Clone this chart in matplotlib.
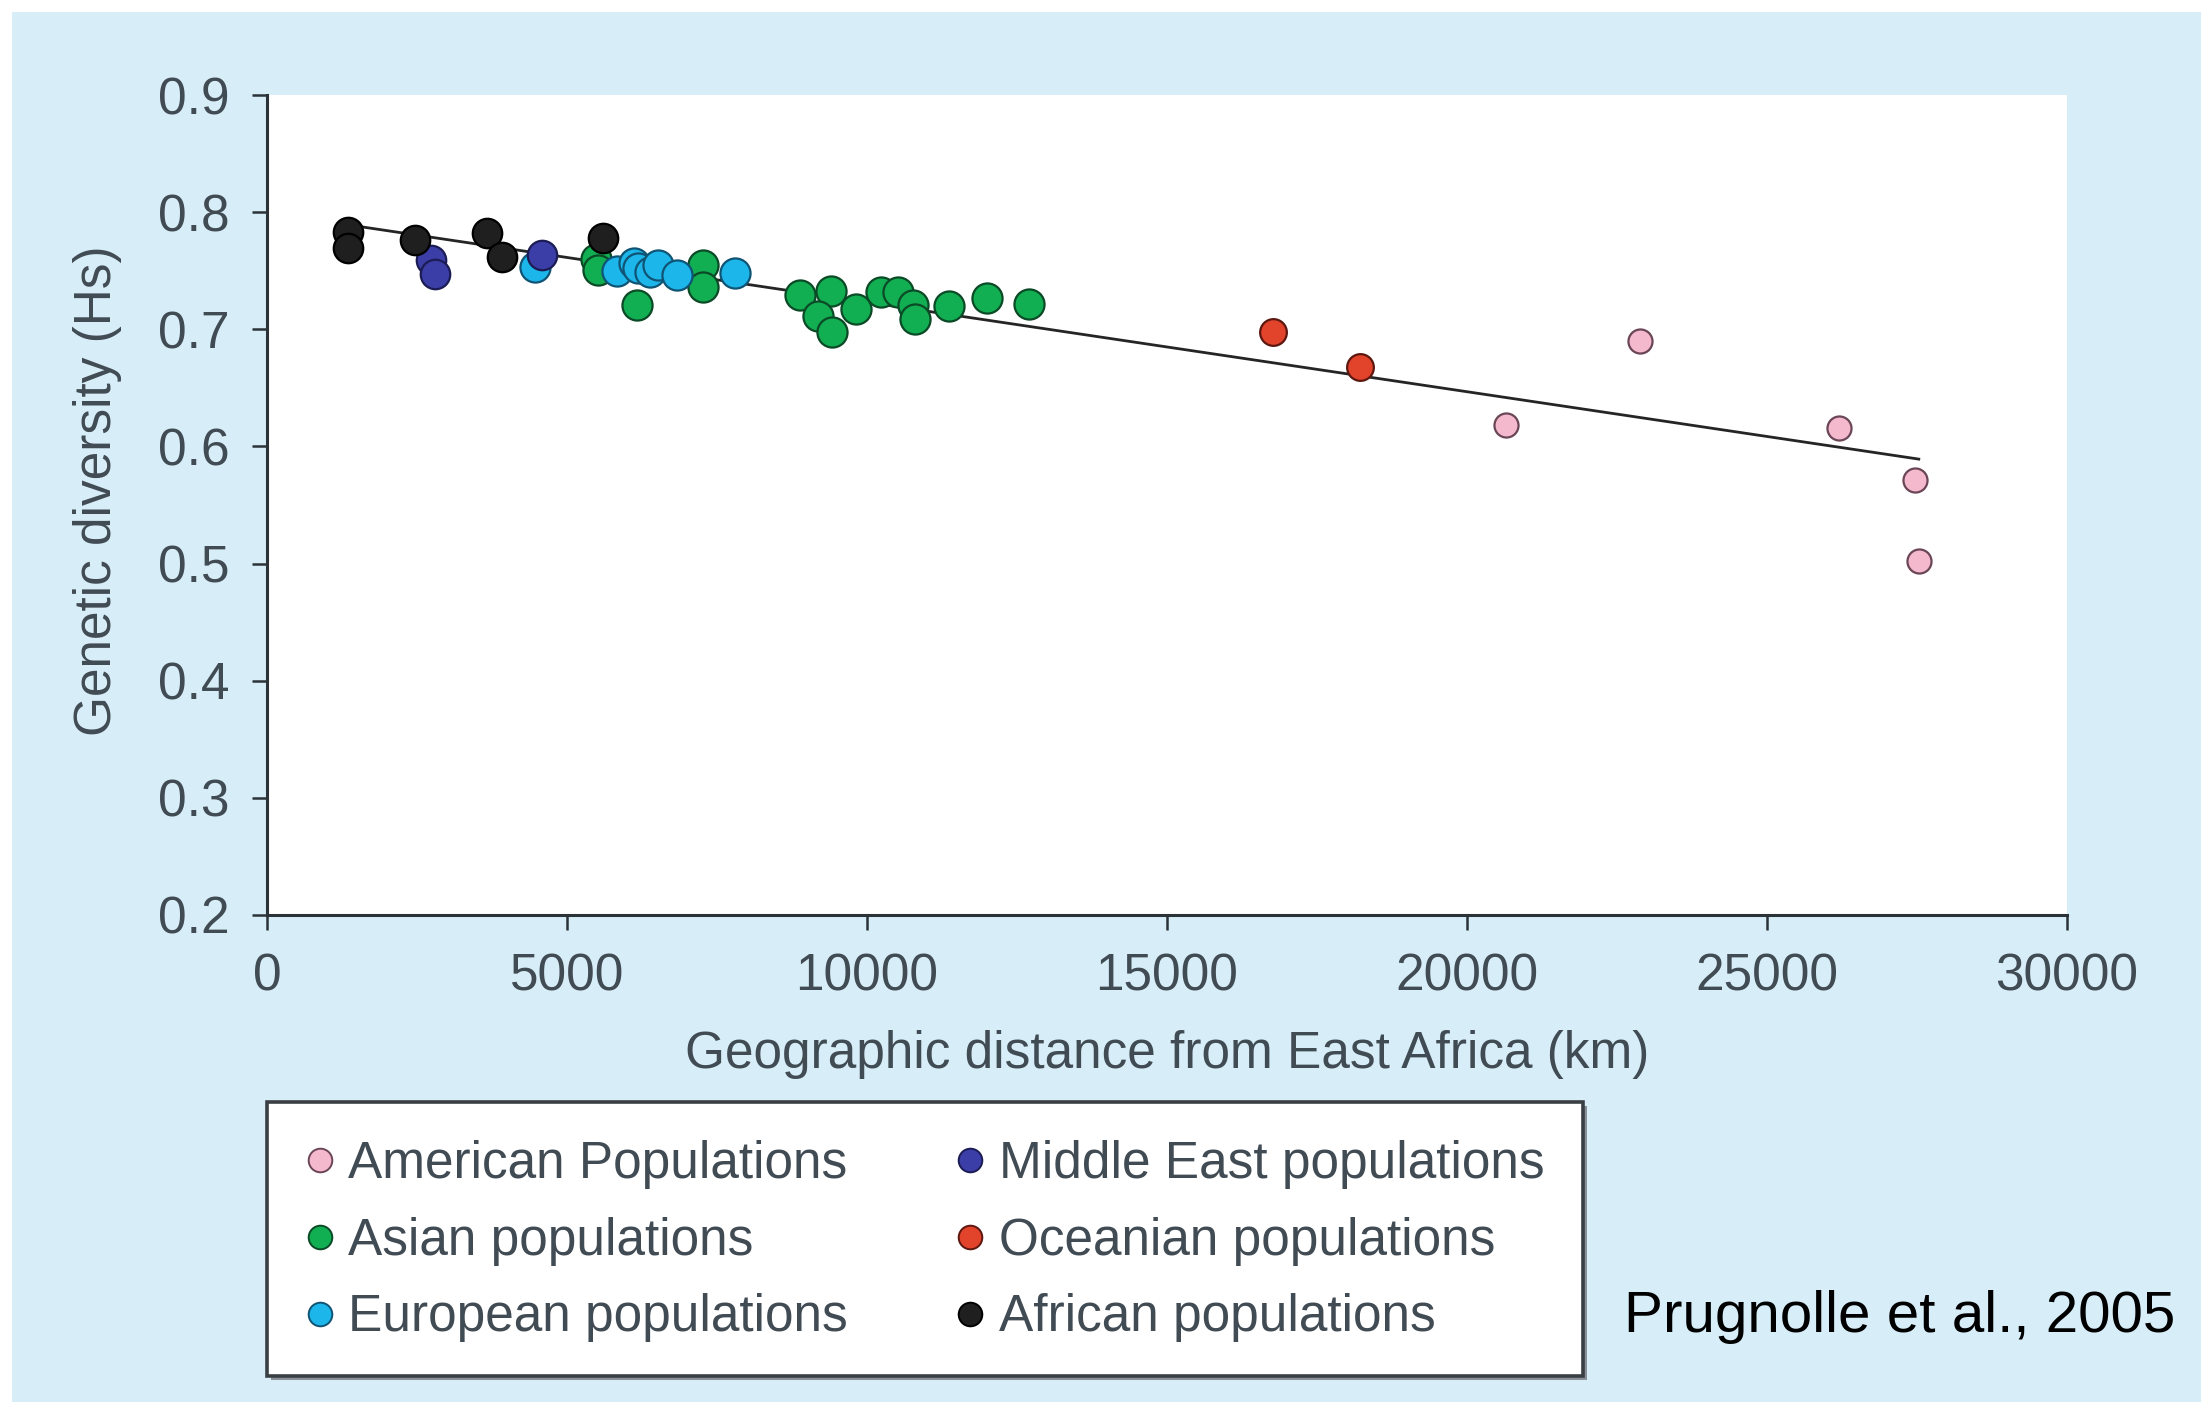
import matplotlib
matplotlib.use("Agg")
import matplotlib.pyplot as plt
from matplotlib.patches import Rectangle
from matplotlib.lines import Line2D
import numpy as np

plt.rcParams['font.family'] = ['Liberation Sans', 'DejaVu Sans']

# Genetic diversity (Hs) vs. geographic distance from East Africa (km)
american_x = [20650, 22880, 26200, 27460, 27530]
american_y = [0.618, 0.690, 0.616, 0.571, 0.502]

asian_x = [5480, 5520, 6160, 7270, 7270, 8880, 9400, 9190, 9420, 9820,
           10240, 10520, 10760, 10800, 11370, 12000, 12700]
asian_y = [0.760, 0.751, 0.721, 0.755, 0.736, 0.729, 0.733, 0.711, 0.698, 0.717,
           0.732, 0.732, 0.721, 0.709, 0.720, 0.727, 0.722]

european_x = [4470, 5830, 6110, 6180, 6380, 6520, 6830, 7800]
european_y = [0.753, 0.750, 0.757, 0.752, 0.749, 0.755, 0.746, 0.748]

middle_east_x = [2740, 2800, 4580]
middle_east_y = [0.759, 0.747, 0.763]

oceanian_x = [16770, 18220]
oceanian_y = [0.698, 0.668]

african_x = [1356, 1356, 2470, 3660, 3910, 5600]
african_y = [0.783, 0.769, 0.776, 0.782, 0.762, 0.778]

# Linear regression reported for the whole sample
fit_intercept = 0.7995
fit_slope = -7.64e-6

x_ticks = [0, 5000, 10000, 15000, 20000, 25000, 30000]
y_ticks = [0.2, 0.3, 0.4, 0.5, 0.6, 0.7, 0.8, 0.9]

W, H = 2201, 1402
fig = plt.figure(figsize=(W / 100, H / 100), dpi=100)
fig.patch.set_facecolor('white')

# light blue slide panel
bg = Rectangle((12 / W, 0), 1, 1 - 12 / H, transform=fig.transFigure,
               facecolor='#d7eef8', edgecolor='none', zorder=-10)
fig.add_artist(bg)

ax = fig.add_axes([267 / W, 487 / H, 1800 / W, 820 / H])
ax.set_facecolor('white')

spine_c = '#2b3238'
text_c = '#414b54'

series = [
    (american_x, american_y, '#f4b9cc', '#6a4656', 300, 'American Populations'),
    (asian_x, asian_y, '#12ae52', '#0b4a26', 470, 'Asian populations'),
    (european_x, european_y, '#1cb6ea', '#0f5474', 470, 'European populations'),
    (middle_east_x, middle_east_y, '#3b3ea6', '#1c1c55', 450, 'Middle East populations'),
    (oceanian_x, oceanian_y, '#e2432b', '#5c1810', 370, 'Oceanian populations'),
    (african_x, african_y, '#1f1f1f', '#000000', 450, 'African populations'),
]

# regression line across the sampled range
all_x = np.concatenate([np.asarray(s[0], float) for s in series])
lx = np.array([all_x.min(), all_x.max()])
ax.plot(lx, fit_intercept + fit_slope * lx, color='#252525', lw=2.0, zorder=2)

draw_order = [1, 2, 3, 5, 4, 0]
for i in draw_order:
    xs, ys, fc, ec, s, lab = series[i]
    ax.scatter(xs, ys, s=s, facecolor=fc, edgecolor=ec, linewidth=1.6,
               zorder=3 + draw_order.index(i))

ax.set_xlim(0, 30000)
ax.set_ylim(0.2, 0.9)
ax.set_xticks(x_ticks)
ax.set_xticklabels([str(t) for t in x_ticks])
ax.set_yticks(y_ticks)
ax.set_yticklabels([f"{t:.1f}" for t in y_ticks])
for side in ('top', 'right'):
    ax.spines[side].set_visible(False)
for side in ('left', 'bottom'):
    ax.spines[side].set_color(spine_c)
    ax.spines[side].set_linewidth(2.2)
ax.tick_params(direction='out', length=11, width=1.8, color=spine_c,
               labelsize=37, labelcolor=text_c, pad=16)

ax.set_xlabel('Geographic distance from East Africa (km)', fontsize=37, color=text_c)
ax.xaxis.set_label_coords(0.5, -0.17)
ax.xaxis.label.set_va('center')
ax.set_ylabel('Genetic diversity (Hs)', fontsize=37, color=text_c)
ax.yaxis.set_label_coords(-0.094, 0.517)
ax.yaxis.label.set_va('center')

# legend box with a soft shadow
box = (267, 1102, 1583, 1376)
shadow = Rectangle(((box[0] + 4) / W, (H - box[3] - 4) / H), (box[2] - box[0]) / W,
                   (box[3] - box[1]) / H, transform=fig.transFigure,
                   facecolor='#8a9097', edgecolor='none', zorder=4)
frame = Rectangle((box[0] / W, (H - box[3]) / H), (box[2] - box[0]) / W,
                  (box[3] - box[1]) / H, transform=fig.transFigure,
                  facecolor='white', edgecolor='#3a3f44', linewidth=2.6, zorder=5)
fig.add_artist(shadow)
fig.add_artist(frame)

handles = [Line2D([], [], ls='', marker='o', markersize=17, markerfacecolor=s[2],
                  markeredgecolor=s[3], markeredgewidth=1.4) for s in series]
labels = [s[5] for s in series]
leg = fig.legend(handles, labels, ncol=2, loc='upper left',
                 bbox_to_anchor=(304.6 / W, 1 - 1140 / H), frameon=False,
                 fontsize=37, handlelength=0.6, handletextpad=0.25,
                 columnspacing=2.08, labelspacing=0.54, borderpad=0, borderaxespad=0)
leg.set_zorder(6)
for t in leg.get_texts():
    t.set_color(text_c)

fig.text(1624 / W, 1 - 1317 / H, 'Prugnolle et al., 2005', fontsize=42,
         color='black', ha='left', va='center')

fig.savefig('out.png', dpi=100)
